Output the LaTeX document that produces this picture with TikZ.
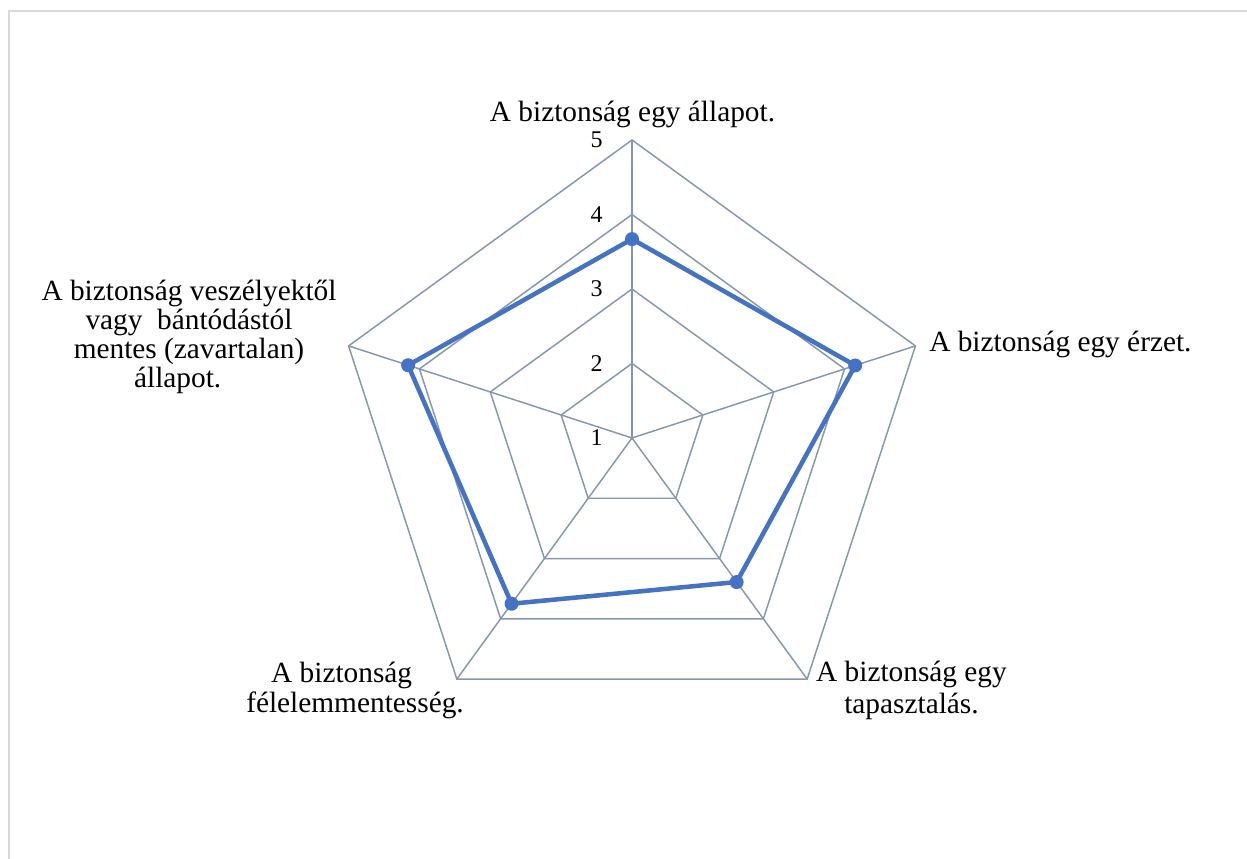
\documentclass[tikz,border=0pt]{standalone}
\usepackage{fontspec}
\setmainfont{Liberation Serif}
\definecolor{gridc}{HTML}{8497B0}
\definecolor{datac}{HTML}{4472C4}
\definecolor{framec}{HTML}{D9D9D9}
\begin{document}
\begin{tikzpicture}[x=0.75pt,y=0.75pt,
  gridline/.style={draw=gridc,line width=1.1pt,line join=miter},
  dataline/.style={draw=datac,line width=3.4pt,line join=round},
  datadot/.style={circle,fill=datac,inner sep=0pt,minimum size=10.5pt},
  axislabel/.style={font=\fontsize{22}{21.75}\selectfont,inner sep=0pt,align=center},
  ticklabel/.style={font=\fontsize{18}{20}\selectfont,inner sep=0pt,anchor=east}]
\useasboundingbox (0,0) rectangle (1247,859);
\draw[framec,line width=1.5pt] (9,-30) rectangle (1280,848);
\coordinate (c) at (632,421);
\foreach \i/\a in {1/90,2/18,3/-54,4/-126,5/162} {
  \foreach \k in {2,3,4,5} {
    \path (c) ++(\a:{(\k-1)*74.5}) coordinate (v\k-\i);
  }
}
\foreach \k in {2,3,4,5}
  \draw[gridline] (v\k-1) -- (v\k-2) -- (v\k-3) -- (v\k-4) -- (v\k-5) -- cycle;
\foreach \i in {1,...,5}
  \draw[gridline] (c) -- (v5-\i);
\foreach \i/\a/\v in {1/90/3.67,2/18/4.15,3/-54/3.39,4/-126/3.75,5/162/4.16}
  \path (c) ++(\a:{(\v-1)*74.5}) node[datadot] (d\i) {};
\draw[dataline] (d1.center) -- (d2.center) -- (d3.center) -- (d4.center) -- (d5.center) -- cycle;
\foreach \k in {1,...,5}
  \node[ticklabel] (t\k) at (603,{421+(\k-1)*74.5}) {\k};
\node[axislabel,anchor=base] (l1) at (632.5,737) {A biztonság egy állapot.};
\node[axislabel,anchor=base west] (l2) at (929,507) {A biztonság egy érzet.};
\node[axislabel,anchor=base,font=\fontsize{22}{24}\selectfont] (l3) at (911.5,145) {A biztonság egy\\tapasztalás.};
\node[axislabel,anchor=base,font=\fontsize{22}{22.5}\selectfont] (l4) at (355,146) {A biztonság\hspace*{20pt}\\félelemmentesség.};
\node[axislabel,anchor=base] (l5) at (189,471) {A biztonság veszélyektől\\vagy\ \ bántódástól\hspace*{13pt}\\mentes (zavartalan)\\állapot.\hspace*{17pt}};
\end{tikzpicture}
\end{document}
